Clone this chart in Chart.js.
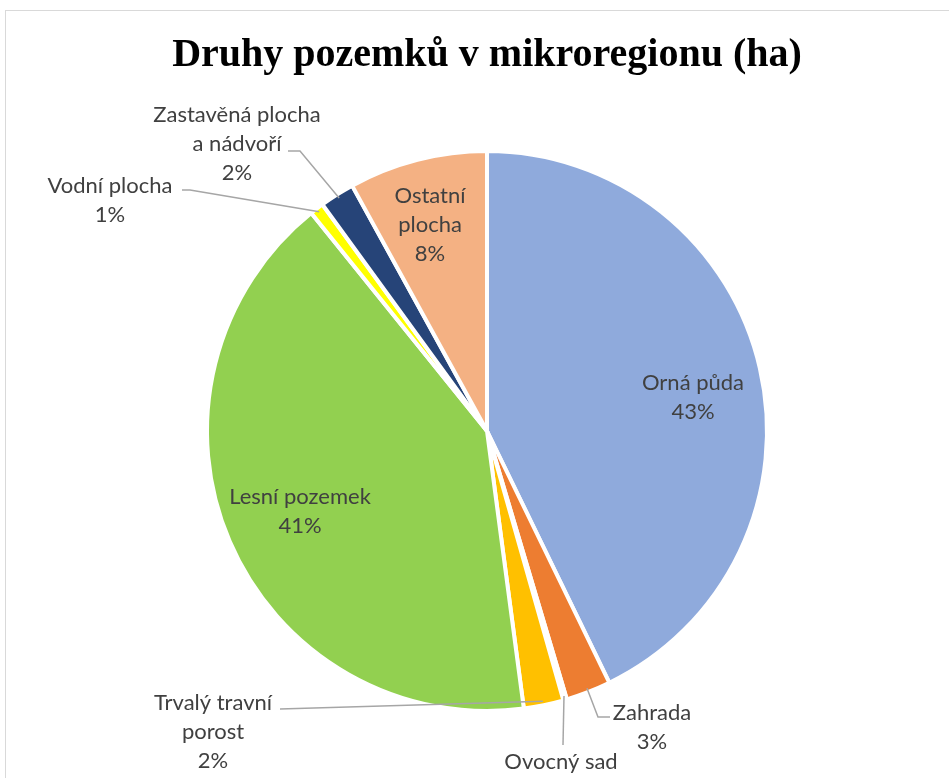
<!DOCTYPE html>
<html>
<head>
<meta charset="utf-8">
<script src="https://cdn.jsdelivr.net/npm/chart.js@4.4.1/dist/chart.umd.min.js"></script>
<style>
  html, body { margin: 0; padding: 0; background: #ffffff; overflow: hidden; }
  #wrap { position: relative; width: 949px; height: 778px; }
  #frame { position: absolute; left: 5px; top: 10px; width: 990px; height: 820px; border: 1px solid #d9d9d9; box-sizing: border-box; }
  canvas { position: absolute; left: 0; top: 0; }
</style>
</head>
<body>
<div id="wrap">
  <div id="frame"></div>
  <canvas id="c" width="949" height="778"></canvas>
</div>
<script>
// ---- data ----
const categories = ['Orná půda', 'Zahrada', 'Ovocný sad', 'Trvalý travní porost', 'Lesní pozemek', 'Vodní plocha', 'Zastavěná plocha a nádvoří', 'Ostatní plocha'];
const areaShare = [42.8, 2.6, 0.2, 2.3, 41.3, 0.8, 2.0, 8.0];
const sliceColors = ['#8FAADC', '#ED7D31', '#A5A5A5', '#FFC000', '#92D050', '#FFFF00', '#264478', '#F4B183'];
const chartTitle = 'Druhy pozemků v mikroregionu (ha)';

// ---- label layout (styling only) ----
const labelLayout = [
  { inside: true, dx: 206, dy: -34, wrap: 200 },
  { dx: 165, dy: 282, wrap: 200, leader: [[111, 286], [123, 286]] },
  { dx: 74, dy: 331, wrap: 200, leader: [[76, 314]] },
  { dx: -274, dy: 272, wrap: 140, leader: [[-207, 278]] },
  { inside: true, dx: -187, dy: 80, wrap: 200 },
  { dx: -377, dy: -245, wrap: 200, leader: [[-297, -241], [-305, -241]] },
  { dx: -250, dy: -316, wrap: 176, leader: [[-187, -280], [-199, -280]] },
  { inside: true, dx: -57, dy: -206, wrap: 80 }
];
const LABEL_FONT = '22px Lato, "Open Sans", sans-serif';
const LINE_H = 29;

function wrapText(ctx, text, maxW) {
  const words = text.split(' ');
  const lines = [];
  let cur = '';
  for (const w of words) {
    const t = cur ? cur + ' ' + w : w;
    if (cur && ctx.measureText(t).width > maxW) { lines.push(cur); cur = w; }
    else cur = t;
  }
  if (cur) lines.push(cur);
  return lines;
}

const labelPlugin = {
  id: 'pieLabels',
  afterDatasetsDraw(chart) {
    const ctx = chart.ctx;
    const meta = chart.getDatasetMeta(0);
    const data = chart.data.datasets[0].data;
    const total = data.reduce((a, b) => a + b, 0);
    ctx.save();
    ctx.font = LABEL_FONT;
    ctx.fillStyle = '#404040';
    ctx.textAlign = 'center';
    ctx.textBaseline = 'middle';
    meta.data.forEach((arc, i) => {
      const p = arc.getProps(['x', 'y', 'startAngle', 'endAngle', 'outerRadius'], true);
      const L = labelLayout[i];
      const cx = p.x, cy = p.y;
      const mid = (p.startAngle + p.endAngle) / 2;
      if (L.leader) {
        ctx.save();
        ctx.strokeStyle = '#A6A6A6';
        ctx.lineWidth = 1.5;
        ctx.beginPath();
        ctx.moveTo(cx + Math.cos(mid) * (p.outerRadius - 4), cy + Math.sin(mid) * (p.outerRadius - 4));
        L.leader.forEach(pt => ctx.lineTo(cx + pt[0], cy + pt[1]));
        ctx.stroke();
        ctx.restore();
      }
      const lines = wrapText(ctx, categories[i], L.wrap);
      lines.push(Math.round(data[i] / total * 100) + '%');
      let y0;
      if (L.inside) {
        y0 = cy + L.dy - (lines.length - 1) * LINE_H / 2;
      } else {
        y0 = cy + L.dy;
      }
      lines.forEach((ln, k) => ctx.fillText(ln, cx + L.dx, y0 + k * LINE_H));
    });
    ctx.restore();
  }
};

new Chart(document.getElementById('c'), {
  type: 'pie',
  data: {
    labels: categories,
    datasets: [{
      data: areaShare,
      backgroundColor: sliceColors,
      borderColor: '#ffffff',
      borderWidth: 4
    }]
  },
  options: {
    responsive: false,
    animation: false,
    radius: 280,
    layout: { padding: { left: 25, right: 0, top: 0, bottom: 0 } },
    plugins: {
      legend: { display: false },
      tooltip: { enabled: false },
      title: {
        display: true,
        text: chartTitle,
        color: '#000000',
        font: { family: '"Liberation Serif", serif', size: 40, weight: 'bold', lineHeight: 1.2 },
        padding: { top: 32, bottom: 4 }
      }
    }
  },
  plugins: [labelPlugin]
});
</script>
</body>
</html>
